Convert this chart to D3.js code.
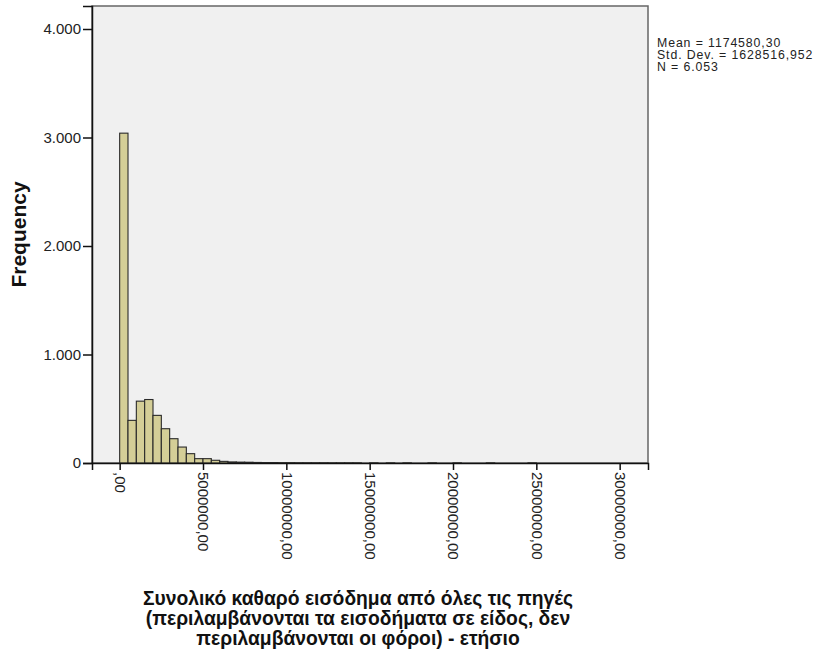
<!DOCTYPE html>
<html>
<head>
<meta charset="utf-8">
<script src="https://cdn.jsdelivr.net/npm/d3@7"></script>
<style>
  body { margin: 0; background: #fff; }
  svg { font-family: "Liberation Sans", Arial, sans-serif; }
</style>
</head>
<body>
<svg id="chart" width="827" height="650"></svg>
<script>
// histogram bins, 500.000 wide, starting at 0
const binWidth = 500000;
const counts = [3040, 393, 570, 585, 439, 316, 224, 147, 86, 40, 40, 25, 15, 10, 8, 7, 5, 4, 4, 3, 3, 2, 2, 2, 2,
  1, 1, 1, 1, 0, 1, 0, 1, 0, 1, 0, 0, 1, 0, 0, 1, 0, 0, 0, 1, 0, 0, 0, 0, 1];
const yTicks = [0, 1000, 2000, 3000, 4000];
const xTicks = [0, 5000000, 10000000, 15000000, 20000000, 25000000, 30000000];
const statsLines = ["Mean = 1174580,30", "Std. Dev. = 1628516,952", "N = 6.053"];
const xTitle = ["Συνολικό καθαρό εισόδημα από όλες τις πηγές",
  "(περιλαμβάνονται τα εισοδήματα σε είδος, δεν",
  "περιλαμβάνονται οι φόροι) - ετήσιο"];

const bins = counts.map((c, i) => ({ x0: i * binWidth, x1: (i + 1) * binWidth, count: c }));

const margin = { left: 92, top: 6, right: 179, bottom: 187 };
const width = 827 - margin.left - margin.right;
const height = 650 - margin.top - margin.bottom;

const svg = d3.select("#chart");
const g = svg.append("g").attr("transform", `translate(${margin.left},${margin.top})`);

const x = d3.scaleLinear().domain([-1660000, 31700000]).range([0, width]);
const y = d3.scaleLinear().domain([0, 4212]).range([height, 0]);

g.append("rect")
  .attr("width", width)
  .attr("height", height)
  .attr("fill", "#f0f0f0")
  .attr("stroke", "#666")
  .attr("stroke-width", 1.5);

g.selectAll("rect.bar")
  .data(bins)
  .join("rect")
  .attr("class", "bar")
  .attr("x", (d) => x(d.x0))
  .attr("width", (d) => x(d.x1) - x(d.x0))
  .attr("y", (d) => y(d.count))
  .attr("height", (d) => height - y(d.count))
  .attr("fill", "#d4ce97")
  .attr("stroke", "#2a2a2a")
  .attr("stroke-width", 1.1)
  .attr("stroke-opacity", (d) => (d.count > 0 ? 1 : 0));

const fmtY = (v) => (v === 0 ? "0" : d3.format(",")(v).replace(/,/g, "."));
const fmtX = (v) => (v === 0 ? ",00" : v + ",00");

const yAxis = g.append("g")
  .call(d3.axisLeft(y).tickValues(yTicks).tickFormat(fmtY).tickSize(9).tickPadding(2));
yAxis.select(".domain").attr("stroke", "#111").attr("stroke-width", 1.5);
yAxis.selectAll(".tick line").attr("stroke", "#111").attr("stroke-width", 1.5);
yAxis.selectAll(".tick text").attr("font-size", 15).attr("fill", "#222").attr("font-family", "Liberation Sans, Arial, sans-serif");

const xAxis = g.append("g")
  .attr("transform", `translate(0,${height})`)
  .call(d3.axisBottom(x).tickValues(xTicks).tickFormat(fmtX).tickSize(7));
xAxis.select(".domain").attr("stroke", "#111").attr("stroke-width", 1.5);
xAxis.selectAll(".tick line").attr("stroke", "#111").attr("stroke-width", 1.5);
xAxis.selectAll(".tick text")
  .attr("font-size", 15)
  .attr("fill", "#222")
  .attr("font-family", "Liberation Sans, Arial, sans-serif")
  .attr("transform", "rotate(90)")
  .attr("text-anchor", "start")
  .attr("dy", "0.35em")
  .attr("y", 0)
  .attr("x", 9);

svg.append("text")
  .attr("transform", `translate(19,${margin.top + height / 2}) rotate(-90)`)
  .attr("text-anchor", "middle")
  .attr("dy", "0.35em")
  .attr("font-size", 21)
  .attr("font-weight", "bold")
  .attr("fill", "#111")
  .text("Frequency");

svg.append("g")
  .selectAll("text")
  .data(xTitle)
  .join("text")
  .attr("x", 358)
  .attr("y", (d, i) => 605 + i * 19.8)
  .attr("text-anchor", "middle")
  .attr("font-size", 19.3)
  .attr("font-weight", "bold")
  .attr("fill", "#111")
  .text((d) => d);

svg.append("g")
  .selectAll("text")
  .data(statsLines)
  .join("text")
  .attr("x", 657)
  .attr("y", (d, i) => 47 + i * 11.8)
  .attr("font-size", 12.3)
  .attr("letter-spacing", 0.9)
  .attr("fill", "#222")
  .text((d) => d);
</script>
</body>
</html>
